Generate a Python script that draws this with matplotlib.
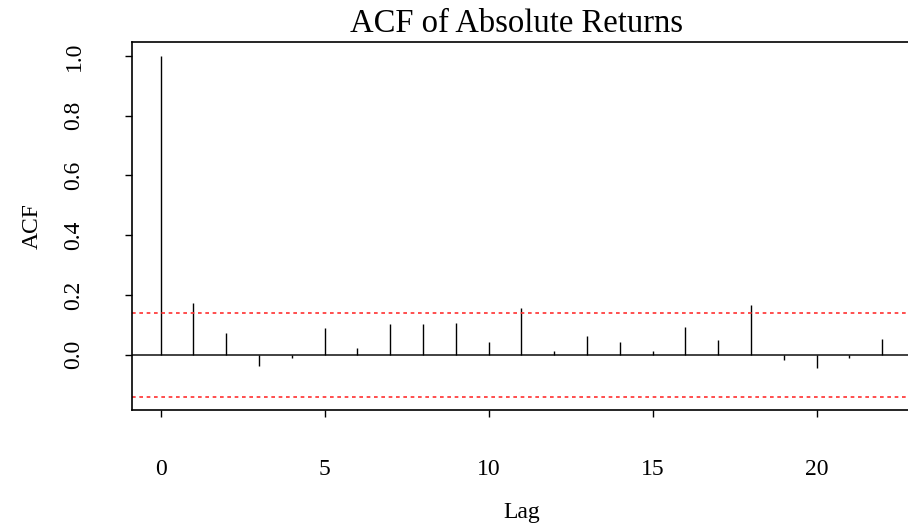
import matplotlib
matplotlib.use("Agg")
import matplotlib.pyplot as plt
import numpy as np

lags = list(range(0, 23))
acf_vals = [1.000, 0.175, 0.072, -0.039, -0.010, 0.089, 0.022, 0.104, 0.104, 0.106,
            0.043, 0.157, 0.013, 0.064, 0.044, 0.012, 0.092, 0.051, 0.166, -0.017,
            -0.044, -0.009, 0.054]
conf_limit = 0.141
x_ticks = [0, 5, 10, 15, 20]
y_ticks = [0.0, 0.2, 0.4, 0.6, 0.8, 1.0]

plt.rcParams['font.family'] = ['Liberation Serif', 'DejaVu Serif']

fig = plt.figure(figsize=(9.08, 5.28), dpi=100)
ax = fig.add_axes([131.7/908, 117.7/528, 779.3/908, 368.0/528])

ax.vlines(lags, 0, acf_vals, colors='black', linewidth=1.0)
ax.axhline(0, color='#333333', linewidth=1.3, zorder=1)
for c in (conf_limit, -conf_limit):
    ax.axhline(c, color='#ff3030', linewidth=1.2, linestyle=(0, (2.2, 2.2)))

ax.set_xlim(-0.88, 22.88)
ax.set_ylim(-0.1856, 1.0456)
ax.set_xticks(x_ticks)
ax.set_yticks(y_ticks)
ax.set_yticklabels([f"{v:.1f}" for v in y_ticks], rotation=90, va='center')
ax.tick_params(axis='x', length=5, width=1, pad=30, labelsize=17)
ax.tick_params(axis='y', length=5, width=1, pad=29, labelsize=17)
for s in ax.spines.values():
    s.set_linewidth(1.2)

fig.text(516/908, 1 - 24/528, "ACF of Absolute Returns", fontsize=23.5,
         ha='center', va='center')
ax.set_xlabel("Lag", fontsize=17, labelpad=16)
ax.set_ylabel("ACF", fontsize=17, labelpad=15)

fig.savefig("out.png", dpi=100)
